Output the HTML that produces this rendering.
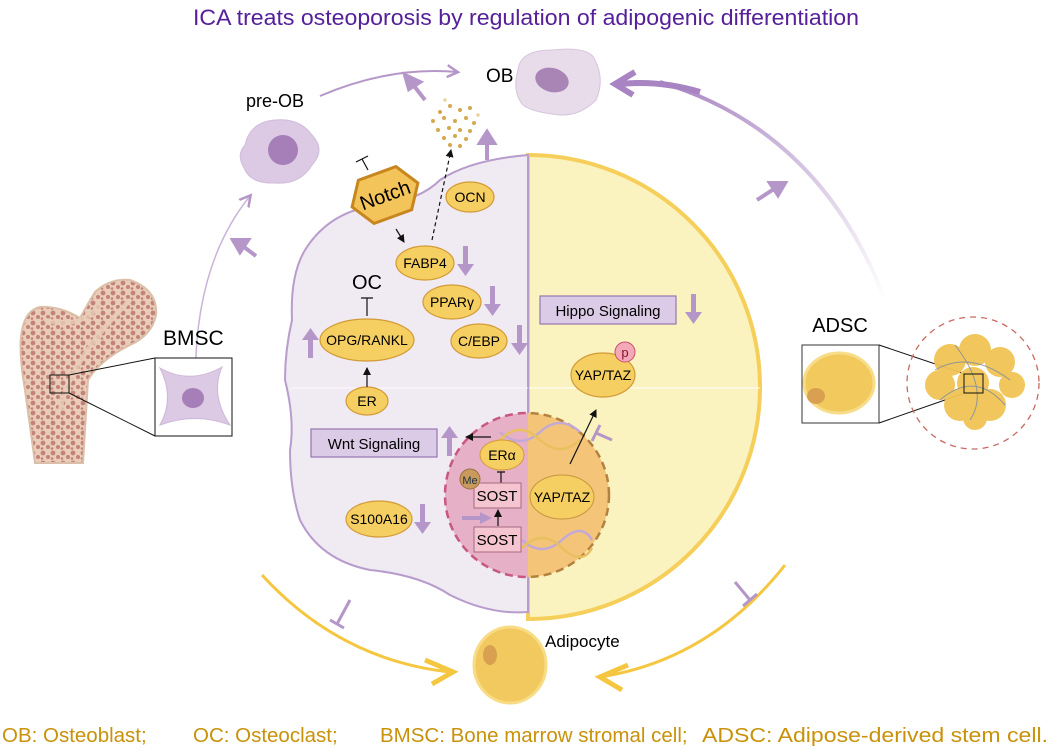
<!DOCTYPE html>
<html><head><meta charset="utf-8"><style>html,body{margin:0;padding:0;background:#fff}svg{display:block}text{font-family:"Liberation Sans",sans-serif}</style></head>
<body>
<svg width="1052" height="751" viewBox="0 0 1052 751" xmlns="http://www.w3.org/2000/svg">
<defs>
<marker id="ah" markerWidth="8" markerHeight="8" refX="7" refY="4" orient="auto" markerUnits="userSpaceOnUse"><path d="M0,0 L8,4 L0,8 Z" fill="#111"/></marker>
<marker id="ahp" markerWidth="14" markerHeight="14" refX="10" refY="7" orient="auto" markerUnits="userSpaceOnUse"><path d="M0,1 L11,7 L0,13" fill="none" stroke="#b596c8" stroke-width="2.5"/></marker>
<linearGradient id="fadeR" x1="0" y1="0" x2="1" y2="1"><stop offset="0" stop-color="#a885c2"/><stop offset="1" stop-color="#a885c2" stop-opacity="0"/></linearGradient>
<clipPath id="nucL"><rect x="440" y="400" width="88" height="190"/></clipPath>
<clipPath id="nucR"><rect x="528" y="400" width="100" height="190"/></clipPath>
<pattern id="spong" width="10" height="10" patternUnits="userSpaceOnUse"><rect width="10" height="10" fill="#e9cdb8"/><circle cx="3" cy="3" r="2.4" fill="#c3837a"/><circle cx="8" cy="7" r="2" fill="#c3837a"/><circle cx="2" cy="8.5" r="1.3" fill="#c3837a"/></pattern>
</defs>

<text x="526" y="25" font-size="22" fill="#55209a" text-anchor="middle" textLength="666" lengthAdjust="spacingAndGlyphs">ICA treats osteoporosis by regulation of adipogenic differentiation</text>

<path d="M196,400 Q190,270 250,196" fill="none" stroke="#c9b4d8" stroke-width="1.5" marker-end="url(#ahp)"/>
<path d="M320,96 Q390,66 457,72" fill="none" stroke="#b596c8" stroke-width="2" marker-end="url(#ahp)"/>
<path d="M885,300 Q820,130 660,82" fill="none" stroke="url(#fadeR)" stroke-width="4"/>
<path d="M700,92 Q660,80 620,84" fill="none" stroke="#a885c2" stroke-width="6"/>
<path d="M635,72 L615,84 L633,95" fill="none" stroke="#a885c2" stroke-width="6"/>
<path d="M262,575 Q340,660 450,672" fill="none" stroke="#f5c740" stroke-width="3"/>
<path d="M425,660 L453,672 L432,684" fill="none" stroke="#f5c740" stroke-width="5"/>
<path d="M785,565 Q710,660 600,677" fill="none" stroke="#f5c740" stroke-width="3"/>
<path d="M628,665 L600,677 L622,690" fill="none" stroke="#f5c740" stroke-width="5"/>
<g stroke="#b596c8" stroke-width="3"><path d="M350,600 L337,624 M330,620 L344,628"/><path d="M735,582 L750,600 M743,606 L757,594"/></g>

<g stroke="#b596c8" stroke-width="4" fill="#b596c8">
<path d="M256,256 L240,244"/><path d="M233,240 L248,240 L240,252Z"/>
<path d="M425,100 L411,82"/><path d="M405,75 L420,82 L409,89Z"/>
<path d="M487,160 L487,142"/><path d="M480,143 L487,132 L494,143Z"/>
<path d="M757,200 L774,189"/><path d="M785,183 L770,183 L778,195Z"/>
</g>

<g fill="#d4a94e">
<circle cx="440" cy="112" r="2"/><circle cx="450" cy="106" r="2"/><circle cx="460" cy="110" r="2"/><circle cx="470" cy="108" r="2"/><circle cx="433" cy="121" r="2"/><circle cx="444" cy="118" r="2"/><circle cx="455" cy="121" r="2"/><circle cx="466" cy="118" r="2"/><circle cx="474" cy="123" r="2"/><circle cx="438" cy="130" r="2"/><circle cx="449" cy="128" r="2"/><circle cx="460" cy="130" r="2"/><circle cx="470" cy="131" r="2"/><circle cx="444" cy="138" r="2"/><circle cx="455" cy="136" r="2"/><circle cx="466" cy="139" r="2"/><circle cx="450" cy="145" r="2"/><circle cx="460" cy="146" r="2"/><circle cx="445" cy="100" r="1.8" fill="#ead3a0"/><circle cx="478" cy="115" r="1.8" fill="#ead3a0"/>
</g>

<text x="486" y="82" font-size="19" fill="#000">OB</text>
<path d="M518,70 Q520,50 552,50 Q590,46 595,60 Q605,80 596,100 Q580,116 560,115 Q530,112 522,104 Q512,90 518,70Z" fill="#e8dcea" stroke="#d8c4de"/>
<ellipse cx="552" cy="80" rx="17" ry="12" fill="#a985b6" transform="rotate(15 552 80)"/>

<text x="275" y="107" font-size="18" fill="#000" text-anchor="middle">pre-OB</text>
<path d="M245,145 Q250,122 275,120 Q300,118 312,135 Q326,150 312,165 Q300,185 275,183 Q250,184 244,168 Q236,155 245,145Z" fill="#dcc9e4" stroke="#d0bcdc"/>
<circle cx="283" cy="150" r="15" fill="#a67fb8"/>

<path d="M35,463 L25,390 Q18,350 22,330 Q26,310 40,307 Q60,306 80,318 Q90,300 95,292 Q110,278 130,280 Q158,290 156,315 Q152,335 130,345 Q100,360 88,380 L83,463Z" fill="url(#spong)" stroke="#dcbfa8" stroke-width="2"/>
<path d="M45,320 Q80,330 100,305 M60,410 Q70,360 130,300" stroke="#e9cdb8" stroke-width="5" fill="none" opacity="0.8"/>
<rect x="50" y="375" width="19" height="18" fill="none" stroke="#111" stroke-width="1"/>
<line x1="69" y1="375" x2="155" y2="358" stroke="#111"/><line x1="69" y1="393" x2="155" y2="436" stroke="#111"/>
<rect x="155" y="358" width="77" height="78" fill="#fff" stroke="#111"/>
<path d="M160,368 Q190,385 222,367 Q210,395 230,425 Q195,412 160,425 Q175,398 160,368Z" fill="#dcc9e4" stroke="#cdb8d8"/>
<ellipse cx="193" cy="398" rx="11" ry="10" fill="#a67fb8"/>
<text x="163" y="345" font-size="21" fill="#000">BMSC</text>

<path d="M528,155 A232,232 0 0 1 528,619 Z" fill="#fbf3bf" stroke="#f5cf5a" stroke-width="4"/>
<line x1="528" y1="388" x2="760" y2="388" stroke="#fff" stroke-width="1"/>
<path d="M528,155 Q470,160 440,180 Q420,200 380,205 Q330,210 305,250 Q290,275 292,320 Q285,350 285,380 Q295,420 290,450 Q290,490 300,520 Q320,560 370,570 Q420,575 450,595 Q490,615 528,612 Z" fill="#f0eaf3" stroke="#b79ccc" stroke-width="2"/>
<line x1="290" y1="388" x2="528" y2="388" stroke="#fff" stroke-width="0.8"/>

<g transform="rotate(-20 385 195)">
<polygon points="350,195 365,172 405,172 420,195 405,218 365,218" fill="#f3c45a" stroke="#c8861e" stroke-width="3"/>
<text x="385" y="202" font-size="20" text-anchor="middle" fill="#000">Notch</text>
</g>
<path d="M368,170 L362,159 M356,162 L368,156" stroke="#111" stroke-width="1.2"/>
<line x1="396" y1="229" x2="404" y2="242" stroke="#111" stroke-width="1.2" marker-end="url(#ah)"/>
<line x1="432" y1="240" x2="451" y2="150" stroke="#111" stroke-width="1.2" stroke-dasharray="4,3" marker-end="url(#ah)"/>

<g fill="#f6cf62" stroke="#d29a35" stroke-width="1.2">
<ellipse cx="470" cy="197" rx="24" ry="15"/>
<ellipse cx="425" cy="263" rx="29" ry="17"/>
<ellipse cx="452" cy="302" rx="29" ry="17"/>
<ellipse cx="479" cy="341" rx="28" ry="17"/>
<ellipse cx="367" cy="340" rx="47" ry="21"/>
<ellipse cx="367" cy="401" rx="21" ry="14"/>
<ellipse cx="379" cy="519" rx="33" ry="18"/>
<ellipse cx="603" cy="375" rx="32" ry="22"/>
</g>
<g font-size="14" text-anchor="middle" fill="#000">
<text x="470" y="202">OCN</text>
<text x="425" y="268">FABP4</text>
<text x="452" y="307">PPARγ</text>
<text x="479" y="346">C/EBP</text>
<text x="367" y="345">OPG/RANKL</text>
<text x="367" y="406">ER</text>
<text x="379" y="524">S100A16</text>
<text x="603" y="380">YAP/TAZ</text>
</g>
<circle cx="625" cy="352" r="10" fill="#f4a9b8" stroke="#c8506a"/>
<text x="625" y="357" font-size="13" text-anchor="middle" fill="#8a1030">p</text>

<text x="367" y="289" font-size="20" text-anchor="middle" fill="#000">OC</text>
<path d="M367,316 L367,298 M361,298 L373,298" stroke="#111" stroke-width="1.2"/>
<line x1="367" y1="387" x2="367" y2="368" stroke="#111" stroke-width="1.2" marker-end="url(#ah)"/>

<g fill="#b596c8">
<path d="M463,246 h5 v18 h6 l-8.5,12 l-8.5,-12 h6z"/>
<path d="M490,286 h5 v18 h6 l-8.5,12 l-8.5,-12 h6z"/>
<path d="M517,325 h5 v18 h6 l-8.5,12 l-8.5,-12 h6z"/>
<path d="M691,294 h5 v18 h6 l-8.5,12 l-8.5,-12 h6z"/>
<path d="M420,504 h5 v18 h6 l-8.5,12 l-8.5,-12 h6z"/>
<path d="M308,358 h5 v-18 h6 l-8.5,-12 l-8.5,12 h6z"/>
<path d="M447,456 h5 v-18 h6 l-8.5,-12 l-8.5,12 h6z"/>
</g>

<rect x="540" y="296" width="136" height="28" fill="#dccbe6" stroke="#9677b0" stroke-width="1.2"/>
<text x="608" y="316" font-size="15" text-anchor="middle" fill="#000">Hippo Signaling</text>
<rect x="311" y="429" width="126" height="28" fill="#dccbe6" stroke="#9677b0" stroke-width="1.2"/>
<text x="374" y="449" font-size="15" text-anchor="middle" fill="#000">Wnt Signaling</text>

<circle cx="527" cy="495" r="82" fill="#e6b0c6" stroke="#c8587f" stroke-width="2.5" stroke-dasharray="8,5" clip-path="url(#nucL)"/>
<circle cx="527" cy="495" r="82" fill="#f4c578" stroke="#b5813f" stroke-width="2.5" stroke-dasharray="8,5" clip-path="url(#nucR)"/>
<g stroke-width="2.5" fill="none">
<path d="M500,432 Q520,450 540,432 Q560,414 580,432" stroke="#c2a9d8"/>
<path d="M500,440 Q520,420 540,440 Q560,458 580,440" stroke="#e8c060"/>
<path d="M522,540 Q542,558 562,540 Q582,522 592,540" stroke="#c2a9d8"/>
<path d="M522,548 Q542,528 562,548 Q582,566 592,548" stroke="#e8c060"/>
</g>
<line x1="491" y1="437" x2="466" y2="437" stroke="#111" stroke-width="1.2" marker-end="url(#ah)"/>
<ellipse cx="502" cy="455" rx="22" ry="15" fill="#f6cf62" stroke="#d29a35"/>
<text x="502" y="460" font-size="14" text-anchor="middle">ERα</text>
<path d="M501,483 L501,472 M497,472 L505,472" stroke="#111" stroke-width="1.2"/>
<rect x="474" y="483" width="47" height="25" fill="#f4c4d0" stroke="#a86a80"/>
<text x="497" y="501" font-size="15" text-anchor="middle">SOST</text>
<rect x="474" y="527" width="47" height="25" fill="#f4c4d0" stroke="#a86a80"/>
<text x="497" y="545" font-size="15" text-anchor="middle">SOST</text>
<line x1="498" y1="526" x2="498" y2="510" stroke="#111" stroke-width="1.2" marker-end="url(#ah)"/>
<circle cx="470" cy="479" r="10" fill="#c99a5c" stroke="#9a7040"/>
<text x="470" y="484" font-size="11" text-anchor="middle" fill="#234">Me</text>
<path d="M462,518 h22" stroke="#b596c8" stroke-width="4"/><path d="M480,512 L492,518 L480,524Z" fill="#b596c8"/>
<ellipse cx="562" cy="497" rx="32" ry="22" fill="#f6cf62" stroke="#c89540"/>
<text x="562" y="502" font-size="14" text-anchor="middle">YAP/TAZ</text>
<line x1="570" y1="464" x2="596" y2="410" stroke="#111" stroke-width="1.2" marker-end="url(#ah)"/>
<path d="M596,433 L612,440 M600,425 L592,441" stroke="#b596c8" stroke-width="3"/>

<text x="840" y="332" font-size="20" text-anchor="middle" fill="#000">ADSC</text>
<rect x="802" y="345" width="77" height="78" fill="#fff" stroke="#333"/>
<ellipse cx="839" cy="383" rx="35" ry="30" fill="#f1c95c" stroke="#f7dd8a" stroke-width="3"/>
<ellipse cx="816" cy="396" rx="9" ry="8" fill="#d8a050"/>
<line x1="879" y1="345" x2="965" y2="374" stroke="#111"/><line x1="879" y1="423" x2="965" y2="393" stroke="#111"/>
<circle cx="973" cy="383" r="66" fill="none" stroke="#c86a60" stroke-width="1.3" stroke-dasharray="6,5"/>
<g fill="#f0c455" opacity="0.95">
<circle cx="950" cy="360" r="16"/><circle cx="975" cy="350" r="16"/><circle cx="1000" cy="362" r="15"/><circle cx="1012" cy="385" r="13"/><circle cx="940" cy="385" r="15"/><circle cx="960" cy="405" r="16"/><circle cx="990" cy="405" r="16"/><circle cx="973" cy="383" r="16"/><circle cx="975" cy="418" r="12"/>
</g>
<g stroke="#7a8aa0" stroke-width="1" fill="none" opacity="0.8"><path d="M935,370 Q970,350 1010,380"/><path d="M940,400 Q975,370 1005,405"/><path d="M955,345 Q990,390 970,420"/></g>
<rect x="964" y="374" width="19" height="19" fill="none" stroke="#111"/>

<ellipse cx="510" cy="665" rx="36" ry="38" fill="#f2c95e" stroke="#f8dc85" stroke-width="3"/>
<ellipse cx="490" cy="655" rx="7" ry="10" fill="#d8a050"/>
<text x="545" y="647" font-size="17" fill="#000">Adipocyte</text>

<g font-size="20.5" fill="#c8920a">
<text x="2" y="742">OB: Osteoblast;</text>
<text x="193" y="742">OC: Osteoclast;</text>
<text x="380" y="742">BMSC: Bone marrow stromal cell;</text>
<text x="702" y="742" textLength="346" lengthAdjust="spacingAndGlyphs">ADSC: Adipose-derived stem cell.</text>
</g>
</svg>
</body></html>
